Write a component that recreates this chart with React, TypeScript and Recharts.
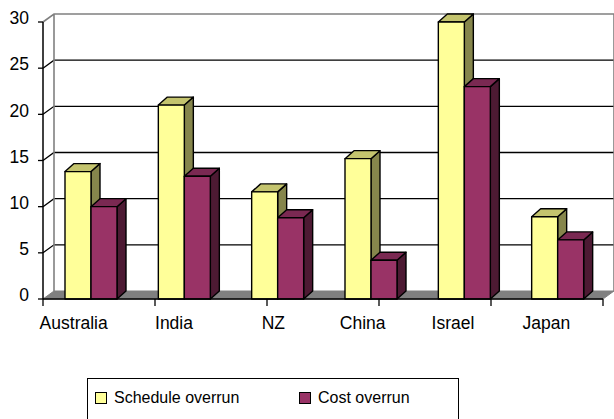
import * as React from "react"
import { BarChart, Bar, XAxis, YAxis, CartesianGrid, Legend } from "recharts"

const countries = ["Australia", "India", "NZ", "China", "Israel", "Japan"]
const scheduleOverrun = [13.8, 21, 11.6, 15.2, 30, 8.9]
const costOverrun = [10, 13.3, 8.8, 4.2, 23, 6.4]
const yTicks = [0, 5, 10, 15, 20, 25, 30]
const edgeTicks = [0, 1, 2, 3, 4, 5, 6]

// Excel places these labels a bit left of the category centre
const labelNudge = [-16, -9, -3, -7, -10, -10]

const data = countries.map((name, i) => ({
  name,
  schedule: scheduleOverrun[i],
  cost: costOverrun[i],
}))

const FONT = "'Liberation Sans', Arial, sans-serif"
const WALL_DX = 11
const WALL_DY = 8
const BAR_DX = 9
const BAR_DY = 8
const GRAY = "#808080"
const EDGE = 1.4

function bar3d(topFill: string, sideFill: string) {
  return (props: any) => {
    const { y, width, height, fill } = props
    const x = props.x + 1
    const r = x + width
    const b = y + height
    return (
      <g stroke="#000" strokeWidth={EDGE} strokeLinejoin="round">
        <polygon
          points={`${r},${y} ${r + BAR_DX},${y - BAR_DY} ${r + BAR_DX},${b - BAR_DY} ${r},${b}`}
          fill={sideFill}
        />
        <polygon
          points={`${x},${y} ${x + BAR_DX},${y - BAR_DY} ${r + BAR_DX},${y - BAR_DY} ${r},${y}`}
          fill={topFill}
        />
        <rect x={x} y={y} width={width} height={height} fill={fill} />
      </g>
    )
  }
}

function gridLine(props: any) {
  const { x1, x2, y1, index } = props
  const backY = y1 - WALL_DY
  const left = x1 + WALL_DX
  const right = x2 + WALL_DX
  if (y1 > 290) {
    return (
      <polygon
        key={index}
        points={`${x1},${y1} ${left},${backY} ${right},${backY} ${x2},${y1}`}
        fill={GRAY}
        stroke={GRAY}
      />
    )
  }
  if (y1 < 30) {
    return (
      <path
        key={index}
        d={`M${x1},${y1} L${left},${backY} L${right},${backY} L${right},${backY + 277} M${left},${backY} L${left},${backY + 277}`}
        fill="none"
        stroke={GRAY}
        strokeWidth={1.6}
      />
    )
  }
  return (
    <path
      key={index}
      d={`M${x1},${y1} L${left},${backY} L${right},${backY}`}
      fill="none"
      stroke="#000"
      strokeWidth={1.3}
    />
  )
}

function CountryTick(props: any) {
  const { x, y, payload, index } = props
  return (
    <text x={x + labelNudge[index]} y={y} textAnchor="middle" fontFamily={FONT} fontSize={17.5} fill="#000">
      {payload.value}
    </text>
  )
}

function NoLabel() {
  return <g />
}

function LegendBox(props: any) {
  return (
    <div
      style={{
        position: "relative",
        width: 372,
        height: 60,
        border: "1.5px solid #000",
        boxSizing: "border-box",
        fontFamily: FONT,
        fontSize: 16,
        background: "#fff",
      }}
    >
      {(props.payload || []).map((entry: any, i: number) => (
        <div key={entry.value} style={{ position: "absolute", left: i === 0 ? 7 : 211, top: 10, display: "flex", alignItems: "center" }}>
          <span style={{ width: 12, height: 12, boxSizing: "border-box", border: "1.5px solid #000", background: entry.color, marginRight: 7 }} />
          <span>{entry.value}</span>
        </div>
      ))}
    </div>
  )
}

export default function App() {
  return (
    <div style={{ position: "absolute", left: 0, top: 0, width: 614, height: 419, background: "#fff", overflow: "hidden" }}>
      <BarChart
        width={614}
        height={419}
        data={data}
        barSize={26}
        barGap={0}
        margin={{ top: 22, right: 11, left: 0, bottom: 0 }}
      >
        <CartesianGrid vertical={false} horizontal={gridLine} />
        <YAxis
          width={43}
          domain={[0, 30]}
          ticks={yTicks}
          interval={0}
          axisLine={{ stroke: "#000", strokeWidth: 1.5 }}
          tickLine={{ stroke: "#000", strokeWidth: 1.3 }}
          tickSize={5}
          tickMargin={9}
          tick={{ fill: "#000", fontSize: 17.5, fontFamily: FONT, dy: -4 }}
        />
        <XAxis
          xAxisId="axisEdges"
          type="number"
          scale="linear"
          domain={[0, 6]}
          ticks={edgeTicks}
          interval={0}
          height={1}
          tick={<NoLabel />}
          axisLine={{ stroke: "#000", strokeWidth: 1.5 }}
          tickLine={{ stroke: "#000", strokeWidth: 1.3 }}
          tickSize={7}
        />
        <XAxis
          xAxisId="cats"
          dataKey="name"
          height={119}
          interval={0}
          axisLine={false}
          tickLine={false}
          tick={<CountryTick />}
          tickMargin={23}
        />
        <Bar
          xAxisId="cats"
          dataKey="schedule"
          name="Schedule overrun"
          fill="#FFFF99"
          shape={bar3d("#C4C46E", "#86864C")}
          isAnimationActive={false}
        />
        <Bar
          xAxisId="cats"
          dataKey="cost"
          name="Cost overrun"
          fill="#993366"
          shape={bar3d("#7A2952", "#4D1A33")}
          isAnimationActive={false}
        />
        <Legend
          layout="horizontal"
          align="center"
          verticalAlign="middle"
          itemSorter={null}
          content={<LegendBox />}
          wrapperStyle={{ left: 87, top: 378, width: 372, height: 60 }}
        />
      </BarChart>
    </div>
  )
}
